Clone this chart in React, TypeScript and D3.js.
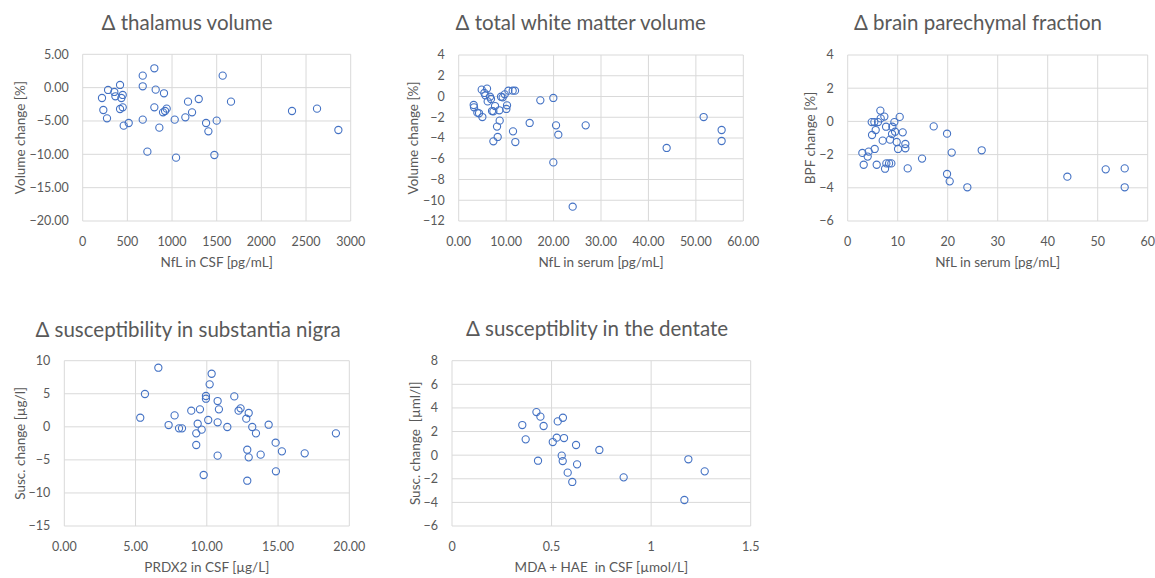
import React from 'react';
import * as d3 from 'd3';

// Δ thalamus volume vs NfL in CSF
const thalNfl = [216, 231, 272, 284, 354, 366, 418, 418, 433, 448, 448, 459, 515, 672, 672, 672, 724, 802, 802, 817, 858, 910, 899, 922, 940, 1030, 1045, 1149, 1179, 1224, 1299, 1381, 1407, 1474, 1500, 1567, 1660, 2343, 2623, 2862];
const thalVol = [-1.55, -3.35, -4.6, -0.35, -0.65, -1.3, 0.4, -3.2, -1.55, -1.1, -2.95, -5.7, -5.3, 1.8, 0.2, -4.8, -9.6, 2.9, -2.95, -0.3, -6.0, -0.85, -3.7, -3.5, -3.15, -4.8, -10.5, -4.45, -2.1, -3.7, -1.7, -5.3, -6.55, -10.1, -4.95, 1.8, -2.1, -3.5, -3.15, -6.35];
const thalXTicks = [0, 500, 1000, 1500, 2000, 2500, 3000];
const thalYTicks = [5, 0, -5, -10, -15, -20];

// Δ total white matter volume vs NfL in serum
const wmNfl = [3.16, 3.23, 3.93, 4.29, 4.85, 4.99, 5.41, 5.62, 5.97, 6.11, 6.6, 6.81, 7.03, 7.31, 7.66, 7.31, 8.08, 8.22, 8.57, 8.64, 8.92, 9.27, 9.7, 10.05, 10.19, 10.47, 11.38, 11.45, 11.87, 11.94, 14.96, 17.21, 19.95, 19.95, 20.52, 21.0, 24.03, 26.77, 43.84, 51.64, 55.43, 55.43];
const wmVol = [-0.82, -1.04, -1.56, -1.62, 0.66, -1.98, 0.34, 0.11, 0.76, -0.47, -0.02, -0.24, -1.4, -4.32, -0.92, -1.43, -2.9, -3.9, -1.33, -2.33, -0.02, -0.08, 0.21, -1.2, -0.85, 0.56, 0.56, -3.36, 0.56, -4.39, -2.55, -0.37, -0.14, -6.35, -2.78, -3.68, -10.62, -2.78, -4.96, -1.98, -3.23, -4.29];
const wmXTicks = [0, 10, 20, 30, 40, 50, 60];
const wmYTicks = [4, 2, 0, -2, -4, -6, -8, -10, -12];

// Δ brain parechymal fraction vs NfL in serum
const bpfNfl = [2.93, 3.2, 4.0, 4.2, 4.8, 4.87, 5.33, 5.4, 5.6, 5.8, 6.07, 6.53, 6.6, 7.0, 7.33, 7.47, 7.67, 7.73, 8.27, 8.47, 8.73, 8.87, 8.93, 9.33, 9.47, 9.8, 10.07, 10.4, 11.0, 11.53, 11.53, 12.0, 14.87, 17.2, 19.87, 19.87, 20.4, 20.8, 23.93, 26.8, 43.93, 51.6, 55.4, 55.4];
const bpfChange = [-1.9, -2.61, -2.12, -1.82, -0.04, -0.82, -0.04, -1.66, -0.52, -2.61, -0.04, 0.65, 0.18, -1.16, 0.29, -2.85, -0.32, -2.53, -2.53, -1.1, -2.53, -0.76, -0.32, -0.04, -0.62, -1.24, -1.66, 0.27, -0.66, -1.36, -1.62, -2.83, -2.24, -0.3, -0.74, -3.17, -3.61, -1.88, -3.97, -1.74, -3.33, -2.89, -2.83, -3.97];
const bpfXTicks = [0, 10, 20, 30, 40, 50, 60];
const bpfYTicks = [4, 2, 0, -2, -4, -6];

// Δ susceptibility in substantia nigra vs PRDX2 in CSF
const snPrdx2 = [5.33, 5.66, 6.6, 7.32, 7.74, 8.05, 8.26, 8.91, 9.26, 9.26, 9.36, 9.52, 9.64, 9.78, 9.94, 9.94, 10.1, 10.2, 10.34, 10.76, 10.76, 10.76, 10.85, 11.44, 11.93, 12.23, 12.37, 12.77, 12.84, 12.94, 12.94, 12.84, 13.19, 13.45, 13.78, 14.34, 14.83, 14.85, 15.27, 16.87, 19.06];
const snSusc = [1.38, 4.96, 8.94, 0.27, 1.73, -0.23, -0.23, 2.44, -0.99, -2.75, 0.47, 2.64, -0.43, -7.29, 4.66, 4.25, 1.03, 6.42, 8.03, 3.9, 0.68, -4.36, 2.64, -0.03, 4.6, 2.44, 2.79, 1.23, -3.46, -4.62, 2.09, -8.15, -0.03, -0.99, -4.21, 0.32, -2.4, -6.73, -3.71, -4.01, -0.99];
const snXTicks = [0, 5, 10, 15, 20];
const snYTicks = [10, 5, 0, -5, -10, -15];

// Δ susceptiblity in the dentate vs MDA + HAE in CSF
const dnMda = [0.353, 0.37, 0.424, 0.432, 0.444, 0.46, 0.506, 0.526, 0.531, 0.551, 0.556, 0.557, 0.5625, 0.581, 0.604, 0.623, 0.628, 0.74, 0.862, 1.167, 1.187, 1.269];
const dnSusc = [2.55, 1.34, 3.65, -0.47, 3.26, 2.47, 1.11, 1.48, 2.86, -0.04, -0.5, 3.17, 1.45, -1.48, -2.27, 0.86, -0.78, 0.44, -1.88, -3.8, -0.35, -1.37];
const dnXTicks = [0, 0.5, 1, 1.5];
const dnYTicks = [8, 6, 4, 2, 0, -2, -4, -6];

const FONT = 'Lato, "Open Sans", sans-serif';
const TEXT = '#595959';
const GRID = '#d9d9d9';
const DOT = '#4472c4';

type PanelProps = {
  title: string;
  xLabel: string;
  yLabel: string;
  xs: number[];
  ys: number[];
  xTicks: number[];
  yTicks: number[];
  xFmt: (v: number) => string;
  yFmt: (v: number) => string;
  box: { l: number; r: number; t: number; b: number };
  titleX: number;
  titleY: number;
  xTitleY: number;
  yTitleX: number;
};

const Panel = ({ title, xLabel, yLabel, xs, ys, xTicks, yTicks, xFmt, yFmt, box, titleX, titleY, xTitleY, yTitleX }: PanelProps) => {
  const x = d3.scaleLinear().domain(d3.extent(xTicks) as [number, number]).range([box.l, box.r]);
  const y = d3.scaleLinear().domain(d3.extent(yTicks) as [number, number]).range([box.b, box.t]);
  const midY = (box.t + box.b) / 2;
  return (
    <g>
      <text x={titleX} y={titleY} textAnchor="middle" fontSize={20.5} fill={TEXT}>{title}</text>
      {yTicks.map(t => (
        <g key={'y' + t}>
          <line x1={box.l} x2={box.r} y1={y(t)} y2={y(t)} stroke={GRID} />
          <text x={box.l - 14} y={y(t)} dy="0.35em" textAnchor="end" fontSize={12.5} fill={TEXT}>{yFmt(t)}</text>
        </g>
      ))}
      {xTicks.map(t => (
        <g key={'x' + t}>
          <line x1={x(t)} x2={x(t)} y1={box.t} y2={box.b} stroke={GRID} />
          <text x={x(t)} y={box.b + 25} textAnchor="middle" fontSize={12.5} fill={TEXT}>{xFmt(t)}</text>
        </g>
      ))}
      {xs.map((v, i) => (
        <circle key={i} cx={x(v)} cy={y(ys[i])} r={3.6} fill="none" stroke={DOT} strokeWidth={1.1} />
      ))}
      <text x={(box.l + box.r) / 2} y={xTitleY} textAnchor="middle" fontSize={13.5} fill={TEXT} style={{ whiteSpace: 'pre' }}>{xLabel}</text>
      <text transform={`translate(${yTitleX},${midY}) rotate(-90)`} textAnchor="middle" dy="0.35em" fontSize={13.5} fill={TEXT} style={{ whiteSpace: 'pre' }}>{yLabel}</text>
    </g>
  );
};

const f2 = d3.format('.2f');
const fInt = d3.format('d');
const fGen = (v: number) => String(v);

export default function App() {
  return (
    <svg width={1155} height={578} style={{ position: 'absolute', left: 0, top: 0, background: '#fff' }} fontFamily={FONT}>
      <rect width={1155} height={578} fill="#fff" />
      <Panel title="Δ thalamus volume" xLabel="NfL in CSF [pg/mL]" yLabel="Volume change [%]"
        xs={thalNfl} ys={thalVol} xTicks={thalXTicks} yTicks={thalYTicks} xFmt={fInt} yFmt={f2}
        box={{ l: 82.7, r: 350.7, t: 54.3, b: 221 }} titleX={187} titleY={30} xTitleY={267} yTitleX={20} />
      <Panel title="Δ total white matter volume" xLabel="NfL in serum [pg/mL]" yLabel="Volume change [%]"
        xs={wmNfl} ys={wmVol} xTicks={wmXTicks} yTicks={wmYTicks} xFmt={f2} yFmt={fInt}
        box={{ l: 458.7, r: 743.3, t: 55, b: 221 }} titleX={580.7} titleY={30} xTitleY={267} yTitleX={413} />
      <Panel title="Δ brain parechymal fraction" xLabel="NfL in serum [pg/mL]" yLabel="BPF change [%]"
        xs={bpfNfl} ys={bpfChange} xTicks={bpfXTicks} yTicks={bpfYTicks} xFmt={fInt} yFmt={fInt}
        box={{ l: 847.7, r: 1147.7, t: 55, b: 221 }} titleX={978} titleY={30} xTitleY={267} yTitleX={810} />
      <Panel title="Δ susceptibility in substantia nigra" xLabel="PRDX2 in CSF [µg/L]" yLabel="Susc. change [µg/l]"
        xs={snPrdx2} ys={snSusc} xTicks={snXTicks} yTicks={snYTicks} xFmt={f2} yFmt={fInt}
        box={{ l: 64.3, r: 349.3, t: 360.7, b: 526 }} titleX={188} titleY={337} xTitleY={572} yTitleX={20} />
      <Panel title="Δ susceptiblity in the dentate" xLabel="MDA + HAE  in CSF [µmol/L]" yLabel="Susc. change  [µml/l]"
        xs={dnMda} ys={dnSusc} xTicks={dnXTicks} yTicks={dnYTicks} xFmt={fGen} yFmt={fInt}
        box={{ l: 452, r: 750.7, t: 360.7, b: 526 }} titleX={597} titleY={336} xTitleY={572} yTitleX={415} />
    </svg>
  );
}
